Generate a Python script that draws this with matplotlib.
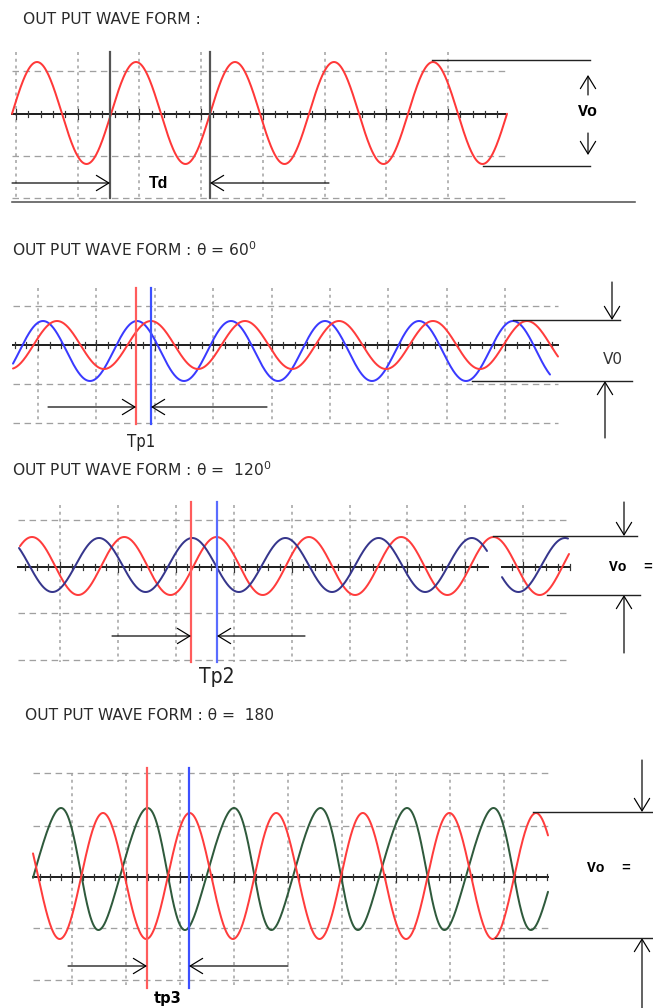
import numpy as np
import matplotlib
matplotlib.use("Agg")
import matplotlib.pyplot as plt

W, H = 653, 1008

# ---------------- data ----------------
titles = ["OUT PUT WAVE FORM :",
          r"OUT PUT WAVE FORM : θ = 60$^{0}$",
          r"OUT PUT WAVE FORM : θ =  120$^{0}$",
          "OUT PUT WAVE FORM : θ =  180"]
delay_labels = ["Td", "Tp1", "Tp2", "tp3"]
amp_labels = ["Vo", "V0", "Vo  =", "Vo  ="]

# waves: peak position, period, amplitude, centre (screen units of the scope)
wave_panel = [0, 1, 1, 2, 2, 3, 3]
wave_color = ["#ff3838", "#3a3aff", "#ff3c3c", "#ff3c3c", "#36368c", "#2f5a3c", "#ff3c3c"]
wave_xstart = [12, 13, 13, 20, 19, 33, 33]
wave_xend = [507, 550, 558, 569, 568, 548, 548]
wave_peak = [37, 43, 57, 32, 99, 61, 103]
wave_period = [99, 94, 94, 92.3, 93.2, 86.5, 86.6]
wave_amp = [51, 30, 24, 29, 27, 61, 63]
wave_center = [113, 351, 345, 566, 565, 869, 876]
wave_skew = [0, 0, 0, 0, 0, 0.44, 0]
wave_gap = [None, None, None, None, (487, 502), None, None]

# grid per panel
grid_x0 = [16, 38, 60, 72]
grid_dx = [61.7, 58.4, 57.9, 54.0]
grid_n = [8, 9, 9, 9]
grid_top = [52, 288, 505, 773]
grid_bottom = [198, 423, 662, 985]
hgrid_y = [[71, 156, 198], [306, 384, 423], [520, 613, 660], [773, 826, 928, 980]]
axis_y = [114, 345, 567, 877]
axis_x0 = [12, 13, 18, 33]
axis_x1 = [505, 558, 570, 548]
axis_gap = [None, None, (488, 502), None]

# markers (phase reference lines)
mark1_x = [110, 136, 191, 147]
mark2_x = [210, 151, 217, 189]
mark_top = [52, 288, 502, 768]
mark_bot = [198, 424, 662, 988]
mark1_col = ["#555555", "#ff5c5c", "#ff5c5c", "#ff5c5c"]
mark2_col = ["#555555", "#3c50ff", "#5a6cff", "#3c50ff"]

# delay arrows
arr_y = [183, 407, 636, 966]
arr_left = [12, 48, 112, 68]
arr_right = [329, 267, 305, 288]
dlabel_xy = [(159, 183), (141, 442), (217, 677), (168, 998)]

# Vo annotation
vo_top = [(432, 590, 60), (513, 620, 320), (493, 637, 536), (533, 653, 812)]
vo_bot = [(483, 590, 166), (472, 632, 381), (547, 640, 595), (495, 653, 938)]
vo_down = [(588, 133, 155), (612, 282, 320), (624, 502, 536), (642, 760, 812)]
vo_up = [(588, 95, 75), (605, 438, 381), (624, 653, 595), (642, 1008, 938)]
vo_text = [(578, 111), (603, 360), (609, 567), (587, 868)]
title_xy = [(23, 20), (12, 250), (12, 470), (25, 715)]

# ---------------- figure ----------------
fig = plt.figure(figsize=(W / 100, H / 100), dpi=100)
ax = fig.add_axes([0, 0, 1, 1])
ax.set_xlim(0, W)
ax.set_ylim(H, 0)
ax.axis("off")

PX = 0.72  # points per pixel

for p in range(4):
    # horizontal dashed grid
    for y in hgrid_y[p]:
        ax.plot([axis_x0[p], axis_x1[p]], [y, y], color="#a0a0a0", lw=1.3 * PX,
                ls=(0, (5, 3.5)), zorder=1)
    # vertical dotted grid
    for k in range(grid_n[p]):
        x = grid_x0[p] + k * grid_dx[p]
        ax.plot([x, x], [grid_top[p], grid_bottom[p]], color="#a0a0a0", lw=1.5 * PX,
                ls=(0, (2, 2.5)), zorder=1)
    # centre axis with ticks
    ay = axis_y[p]
    if axis_gap[p] is None:
        segs = [(axis_x0[p], axis_x1[p])]
    else:
        segs = [(axis_x0[p], axis_gap[p][0]), (axis_gap[p][1], axis_x1[p])]
    for a, b in segs:
        ax.plot([a, b], [ay, ay], color="#222222", lw=2.0 * PX, zorder=2)
    step = grid_dx[p] / 5
    kmin = int(np.ceil((axis_x0[p] - grid_x0[p]) / step))
    kmax = int(np.floor((axis_x1[p] - grid_x0[p]) / step))
    for k in range(kmin, kmax + 1):
        x = grid_x0[p] + k * step
        if axis_gap[p] is not None and axis_gap[p][0] < x < axis_gap[p][1]:
            continue
        h = 5 if k % 5 == 0 else 3
        ax.plot([x, x], [ay - h, ay + h], color="#333333", lw=1.2 * PX, zorder=2)

# waves
for i in range(len(wave_panel)):
    if wave_gap[i] is None:
        ranges = [(wave_xstart[i], wave_xend[i])]
    else:
        ranges = [(wave_xstart[i], wave_gap[i][0]), (wave_gap[i][1], wave_xend[i])]
    for a, b in ranges:
        x = np.linspace(a, b, 800)
        u = 2 * np.pi * (x - wave_peak[i]) / wave_period[i]
        phi = u + wave_skew[i] * (1 - np.cos(u)) / 2
        y = wave_center[i] - wave_amp[i] * np.cos(phi)
        ax.plot(x, y, color=wave_color[i], lw=2.0 * PX, zorder=3,
                solid_capstyle="round")

arrow_kw = dict(arrowstyle="->,head_length=0.9,head_width=0.55", color="black",
                lw=1.2 * PX, shrinkA=0, shrinkB=0)

for p in range(4):
    # marker lines
    ax.plot([mark1_x[p]] * 2, [mark_top[p], mark_bot[p]], color=mark1_col[p],
            lw=2.2 * PX, zorder=4)
    ax.plot([mark2_x[p]] * 2, [mark_top[p], mark_bot[p]], color=mark2_col[p],
            lw=2.2 * PX, zorder=4)
    # delay arrows
    ax.annotate("", xy=(mark1_x[p], arr_y[p]), xytext=(arr_left[p], arr_y[p]),
                arrowprops=arrow_kw, zorder=5)
    ax.annotate("", xy=(mark2_x[p], arr_y[p]), xytext=(arr_right[p], arr_y[p]),
                arrowprops=arrow_kw, zorder=5)
    # Vo lines
    for (a, b, y) in (vo_top[p], vo_bot[p]):
        ax.plot([a, b], [y, y], color="#222222", lw=1.4 * PX, zorder=4)
    x, y0, y1 = vo_down[p]
    ax.annotate("", xy=(x, y1), xytext=(x, y0), arrowprops=arrow_kw)
    x, y0, y1 = vo_up[p]
    ax.annotate("", xy=(x, y1), xytext=(x, y0), arrowprops=arrow_kw)
    # titles
    ax.text(title_xy[p][0], title_xy[p][1], titles[p], ha="left", va="center",
            fontsize=11.2, family=["DejaVu Sans"], color="#2a2a2a")

# panel 1 bottom rule
ax.plot([12, 635], [202, 202], color="#555555", lw=1.6 * PX)

# delay labels
ax.text(*dlabel_xy[0], delay_labels[0], ha="center", va="center", fontsize=11.5,
        fontweight="bold", family=["Liberation Sans", "DejaVu Sans"])
for p in (1, 2):
    ax.text(*dlabel_xy[p], delay_labels[p], ha="center", va="center",
            fontsize=12 if p == 1 else 15,
            family=["Liberation Sans Narrow", "DejaVu Sans"], fontstretch="condensed",
            color="#222222")
ax.text(*dlabel_xy[3], delay_labels[3], ha="center", va="center", fontsize=10.5,
        fontweight="bold", family=["Liberation Sans Narrow", "DejaVu Sans"])

# Vo labels
ax.text(*vo_text[0], amp_labels[0], ha="left", va="center", fontsize=12,
        fontweight="bold", family=["Liberation Mono", "DejaVu Sans Mono"])
for p in (2, 3):
    ax.text(*vo_text[p], amp_labels[p], ha="left", va="center", fontsize=10.5,
            fontweight="bold", family=["Liberation Mono", "DejaVu Sans Mono"])
ax.text(*vo_text[1], amp_labels[1], ha="left", va="center", fontsize=11,
        family=["Liberation Sans Narrow", "DejaVu Sans"], color="#333333")

fig.savefig("out.png", dpi=100)
